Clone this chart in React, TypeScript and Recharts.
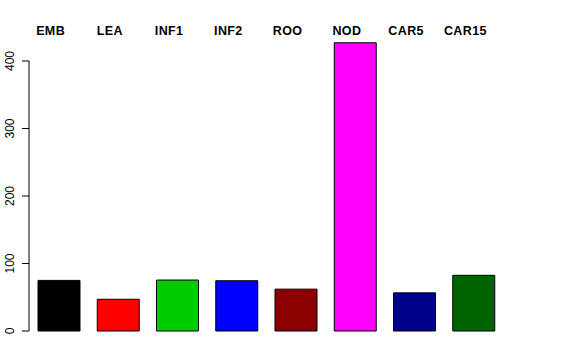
import { BarChart, Bar, XAxis, YAxis, Cell, ReferenceLine } from 'recharts'

const tissues = ['EMB', 'LEA', 'INF1', 'INF2', 'ROO', 'NOD', 'CAR5', 'CAR15']
const counts = [75, 47, 75.5, 74.5, 62, 427, 56.5, 82.5]
const barColors = ['#000000', '#FF0000', '#00CD00', '#0000FF', '#8B0000', '#FF00FF', '#00008B', '#006400']
const yTicks = [0, 100, 200, 300, 400]

const data = tissues.map((name, i) => ({ name, count: counts[i] }))

const font = '"Liberation Sans", Arial, Helvetica, sans-serif'

const TopLabel = (props: any) => {
  const { x, y, payload } = props
  return (
    <text
      x={x - 8}
      y={y + 1}
      textAnchor="middle"
      fontFamily={font}
      fontSize={12.5}
      fontWeight="bold"
      letterSpacing={0.4}
      fill="#000"
    >
      {payload.value}
    </text>
  )
}

const YTick = (props: any) => {
  const { y, payload } = props
  const bx = 13.5
  return (
    <text
      x={bx}
      y={y}
      transform={`rotate(-90, ${bx}, ${y})`}
      textAnchor="middle"
      fontFamily={font}
      fontSize={12}
      fill="#000"
    >
      {payload.value}
    </text>
  )
}

export default function App() {
  return (
    <div style={{ position: 'absolute', left: 0, top: 0, width: 576, height: 360, background: '#fff' }}>
      <BarChart width={576} height={360} data={data} margin={{ top: 14, right: 73, bottom: 29, left: 0 }}>
        <XAxis
          dataKey="name"
          orientation="top"
          height={20}
          axisLine={false}
          tickLine={false}
          tickSize={0}
          tickMargin={0}
          interval={0}
          tick={<TopLabel />}
        />
        <XAxis xAxisId="n" type="number" domain={[0, 1]} hide />
        <YAxis
          width={29}
          domain={[0, 440]}
          ticks={yTicks}
          axisLine={false}
          tickLine={{ stroke: '#000' }}
          tickSize={7}
          tick={<YTick />}
        />
        <ReferenceLine
          xAxisId="n"
          segment={[{ x: 0, y: 0 }, { x: 0, y: 400 }]}
          stroke="#000"
          strokeWidth={1}
        />
        <Bar dataKey="count" barSize={42} stroke="#000" strokeWidth={1} isAnimationActive={false}>
          {data.map((d, i) => (
            <Cell key={d.name} fill={barColors[i]} />
          ))}
        </Bar>
      </BarChart>
    </div>
  )
}
